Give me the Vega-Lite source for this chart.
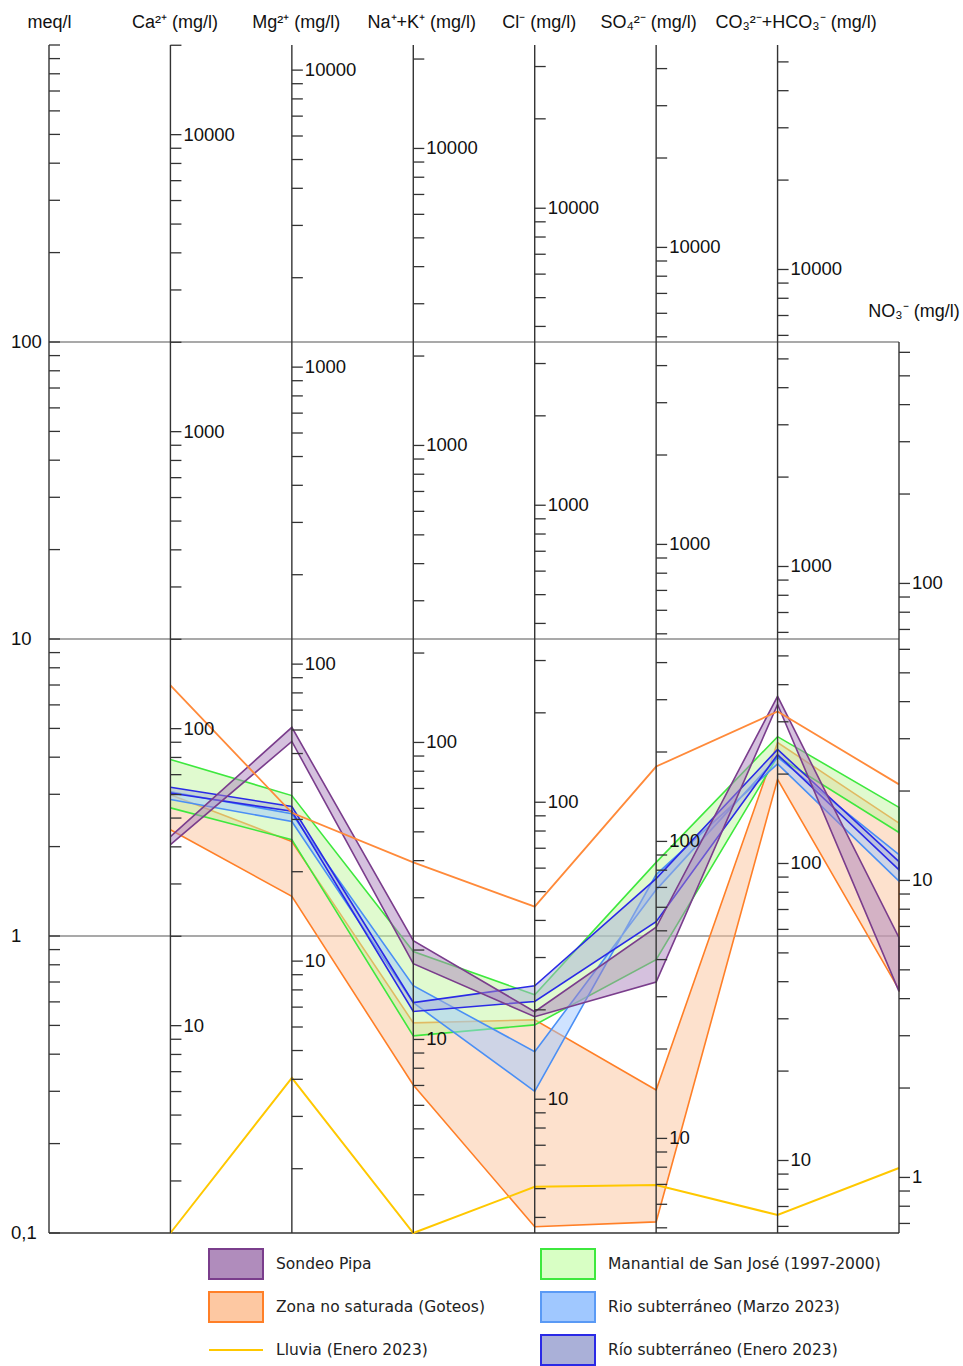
{
  "$schema": "https://vega.github.io/schema/vega-lite/v6.json",
  "width": 850,
  "height": 1188,
  "autosize": {"type": "none"},
  "padding": {"left": 49, "top": 45, "right": 64, "bottom": 133},
  "background": "white",
  "config": {
    "view": {"stroke": null},
    "font": "Liberation Sans",
    "locale": {"number": {"decimal": ",", "thousands": ".", "grouping": [3], "currency": ["", " €"]}},
    "axisX": {
      "domain": false,
      "ticks": false,
      "grid": false,
      "labelAngle": 0,
      "labelPadding": 14,
      "labelFontSize": 18,
      "labelColor": "#111",
      "labelFont": "Liberation Sans",
      "labelOffset": {"condition": [{"test": "datum.value === 'SO4'", "value": -8}, {"test": "datum.value === 'HCO3'", "value": 18}, {"test": "datum.value === 'NaK'", "value": 8}, {"test": "datum.value === 'meq'", "value": 0}], "value": 4},
      "labelExpr": "{'meq': 'meq/l', 'Ca': 'Ca²⁺ (mg/l)', 'Mg': 'Mg²⁺ (mg/l)', 'NaK': 'Na⁺+K⁺ (mg/l)', 'Cl': 'Cl⁻ (mg/l)', 'SO4': 'SO₄²⁻ (mg/l)', 'HCO3': 'CO₃²⁻+HCO₃⁻ (mg/l)', 'NO3': ''}[datum.value]"
    }
  },
  "datasets": {
    "iones": [
      {"ion": "meq", "eqw": 1, "bottom": 0.1, "top": 1000},
      {"ion": "Ca", "eqw": 20.04, "bottom": 0.1, "top": 1000},
      {"ion": "Mg", "eqw": 12.15, "bottom": 0.1, "top": 1000},
      {"ion": "NaK", "eqw": 22.3, "bottom": 0.1, "top": 1000},
      {"ion": "Cl", "eqw": 35.45, "bottom": 0.1, "top": 1000},
      {"ion": "SO4", "eqw": 48.03, "bottom": 0.1, "top": 1000},
      {"ion": "HCO3", "eqw": 57, "bottom": 0.1, "top": 1000},
      {"ion": "NO3", "eqw": 6.5, "bottom": 0.1, "top": 100}
    ],
    "bandas": [
      {"g": "Zona no saturada (Goteos)", "ion": "Ca", "min": 2.28, "max": 2.99},
      {"g": "Zona no saturada (Goteos)", "ion": "Mg", "min": 1.36, "max": 2.08},
      {"g": "Zona no saturada (Goteos)", "ion": "NaK", "min": 0.315, "max": 0.51},
      {"g": "Zona no saturada (Goteos)", "ion": "Cl", "min": 0.105, "max": 0.522},
      {"g": "Zona no saturada (Goteos)", "ion": "SO4", "min": 0.109, "max": 0.303},
      {"g": "Zona no saturada (Goteos)", "ion": "HCO3", "min": 3.37, "max": 4.48},
      {"g": "Zona no saturada (Goteos)", "ion": "NO3", "min": 0.66, "max": 2.4},
      {"g": "Manantial de San José (1997-2000)", "ion": "Ca", "min": 2.7, "max": 3.93},
      {"g": "Manantial de San José (1997-2000)", "ion": "Mg", "min": 2.11, "max": 2.97},
      {"g": "Manantial de San José (1997-2000)", "ion": "NaK", "min": 0.461, "max": 0.887},
      {"g": "Manantial de San José (1997-2000)", "ion": "Cl", "min": 0.502, "max": 0.634},
      {"g": "Manantial de San José (1997-2000)", "ion": "SO4", "min": 0.832, "max": 1.77},
      {"g": "Manantial de San José (1997-2000)", "ion": "HCO3", "min": 4.02, "max": 4.69},
      {"g": "Manantial de San José (1997-2000)", "ion": "NO3", "min": 2.23, "max": 2.71},
      {"g": "Rio subterráneo (Marzo 2023)", "ion": "Ca", "min": 2.88, "max": 3.06},
      {"g": "Rio subterráneo (Marzo 2023)", "ion": "Mg", "min": 2.43, "max": 2.58},
      {"g": "Rio subterráneo (Marzo 2023)", "ion": "NaK", "min": 0.596, "max": 0.68},
      {"g": "Rio subterráneo (Marzo 2023)", "ion": "Cl", "min": 0.3, "max": 0.408},
      {"g": "Rio subterráneo (Marzo 2023)", "ion": "SO4", "min": 1.61, "max": 1.43},
      {"g": "Rio subterráneo (Marzo 2023)", "ion": "HCO3", "min": 3.8, "max": 4.0},
      {"g": "Rio subterráneo (Marzo 2023)", "ion": "NO3", "min": 1.53, "max": 1.88},
      {"g": "Río subterráneo (Enero 2023)", "ion": "Ca", "min": 3.03, "max": 3.17},
      {"g": "Río subterráneo (Enero 2023)", "ion": "Mg", "min": 2.63, "max": 2.73},
      {"g": "Río subterráneo (Enero 2023)", "ion": "NaK", "min": 0.557, "max": 0.597},
      {"g": "Río subterráneo (Enero 2023)", "ion": "Cl", "min": 0.602, "max": 0.68},
      {"g": "Río subterráneo (Enero 2023)", "ion": "SO4", "min": 1.117, "max": 1.56},
      {"g": "Río subterráneo (Enero 2023)", "ion": "HCO3", "min": 4.08, "max": 4.25},
      {"g": "Río subterráneo (Enero 2023)", "ion": "NO3", "min": 1.67, "max": 1.78},
      {"g": "Sondeo Pipa", "ion": "Ca", "min": 2.03, "max": 2.16},
      {"g": "Sondeo Pipa", "ion": "Mg", "min": 4.52, "max": 5.04},
      {"g": "Sondeo Pipa", "ion": "NaK", "min": 0.807, "max": 0.964},
      {"g": "Sondeo Pipa", "ion": "Cl", "min": 0.535, "max": 0.556},
      {"g": "Sondeo Pipa", "ion": "SO4", "min": 0.7, "max": 1.07},
      {"g": "Sondeo Pipa", "ion": "HCO3", "min": 6.02, "max": 6.41},
      {"g": "Sondeo Pipa", "ion": "NO3", "min": 0.651, "max": 0.987}
    ],
    "lineas": [
      {"g": "Zona no saturada (Goteos)", "ion": "Ca", "meq": 6.98},
      {"g": "Zona no saturada (Goteos)", "ion": "Mg", "meq": 2.6},
      {"g": "Zona no saturada (Goteos)", "ion": "NaK", "meq": 1.77},
      {"g": "Zona no saturada (Goteos)", "ion": "Cl", "meq": 1.255},
      {"g": "Zona no saturada (Goteos)", "ion": "SO4", "meq": 3.72},
      {"g": "Zona no saturada (Goteos)", "ion": "HCO3", "meq": 5.7},
      {"g": "Zona no saturada (Goteos)", "ion": "NO3", "meq": 3.24},
      {"g": "Lluvia (Enero 2023)", "ion": "Ca", "meq": 0.1},
      {"g": "Lluvia (Enero 2023)", "ion": "Mg", "meq": 0.333},
      {"g": "Lluvia (Enero 2023)", "ion": "NaK", "meq": 0.1},
      {"g": "Lluvia (Enero 2023)", "ion": "Cl", "meq": 0.143},
      {"g": "Lluvia (Enero 2023)", "ion": "SO4", "meq": 0.145},
      {"g": "Lluvia (Enero 2023)", "ion": "HCO3", "meq": 0.115},
      {"g": "Lluvia (Enero 2023)", "ion": "NO3", "meq": 0.1655}
    ],
    "escala": [
      {
        "ion": ["meq", "Ca", "Mg", "NaK", "Cl", "SO4", "HCO3", "NO3"],
        "mg": [0.1, 0.2, 0.3, 0.4, 0.5, 0.6, 0.7, 0.8, 0.9,
               1, 2, 3, 4, 5, 6, 7, 8, 9,
               10, 20, 30, 40, 50, 60, 70, 80, 90,
               100, 200, 300, 400, 500, 600, 700, 800, 900,
               1000, 2000, 3000, 4000, 5000, 6000, 7000, 8000, 9000,
               10000, 20000, 30000, 40000, 50000, 60000, 70000, 80000, 90000]
      }
    ],
    "grupos": [
      {"g": "Sondeo Pipa"}
    ]
  },
  "layer": [
    {
      "data": {"values": [{"meq": 0.1}, {"meq": 1}, {"meq": 10}, {"meq": 100}]},
      "mark": {"type": "rule", "strokeWidth": 1.5},
      "encoding": {
        "x": {"datum": "meq", "type": "nominal", "title": null, "scale": {"type": "point", "domain": ["meq", "Ca", "Mg", "NaK", "Cl", "SO4", "HCO3", "NO3"], "padding": 0}, "axis": {"orient": "top"}},
        "x2": {"datum": "NO3"},
        "y": {"field": "meq", "type": "quantitative", "scale": {"type": "log", "domain": [0.1, 1000], "nice": false}, "axis": null},
        "color": {"condition": {"test": "datum.meq < 0.5", "value": "#333333"}, "value": "#8c8c8c"}
      }
    },
    {
      "data": {"name": "bandas"},
      "transform": [
        {"filter": "datum.g === 'Zona no saturada (Goteos)'"},
        {"fold": ["max", "min"], "as": ["lado", "meq"]},
        {"calculate": "indexof(['Ca', 'Mg', 'NaK', 'Cl', 'SO4', 'HCO3', 'NO3'], datum.ion)", "as": "i"},
        {"calculate": "datum.lado === 'max' ? datum.i : 13 - datum.i", "as": "k"}
      ],
      "mark": {"type": "line", "strokeWidth": 1.6, "fillOpacity": 0.5},
      "encoding": {
        "x": {"field": "ion", "type": "nominal", "title": null, "axis": {"orient": "top"}},
        "y": {"field": "meq", "type": "quantitative", "axis": null},
        "order": {"field": "k", "type": "quantitative"},
        "stroke": {"value": "#ff7f27"},
        "fill": {"value": "#fbc39b"}
      }
    },
    {
      "data": {"name": "bandas"},
      "transform": [
        {"filter": "datum.g === 'Manantial de San José (1997-2000)'"},
        {"fold": ["max", "min"], "as": ["lado", "meq"]},
        {"calculate": "indexof(['Ca', 'Mg', 'NaK', 'Cl', 'SO4', 'HCO3', 'NO3'], datum.ion)", "as": "i"},
        {"calculate": "datum.lado === 'max' ? datum.i : 13 - datum.i", "as": "k"}
      ],
      "mark": {"type": "line", "strokeWidth": 1.6, "fillOpacity": 0.5},
      "encoding": {
        "x": {"field": "ion", "type": "nominal", "title": null, "axis": {"orient": "top"}},
        "y": {"field": "meq", "type": "quantitative", "axis": null},
        "order": {"field": "k", "type": "quantitative"},
        "stroke": {"value": "#3ee83e"},
        "fill": {"value": "#c2f5a0"}
      }
    },
    {
      "data": {"name": "bandas"},
      "transform": [
        {"filter": "datum.g === 'Rio subterráneo (Marzo 2023)'"},
        {"fold": ["max", "min"], "as": ["lado", "meq"]},
        {"calculate": "indexof(['Ca', 'Mg', 'NaK', 'Cl', 'SO4', 'HCO3', 'NO3'], datum.ion)", "as": "i"},
        {"calculate": "datum.lado === 'max' ? datum.i : 13 - datum.i", "as": "k"}
      ],
      "mark": {"type": "line", "strokeWidth": 1.6, "fillOpacity": 0.5},
      "encoding": {
        "x": {"field": "ion", "type": "nominal", "title": null, "axis": {"orient": "top"}},
        "y": {"field": "meq", "type": "quantitative", "axis": null},
        "order": {"field": "k", "type": "quantitative"},
        "stroke": {"value": "#4a8ff5"},
        "fill": {"value": "#a0c8ff"}
      }
    },
    {
      "data": {"name": "bandas"},
      "transform": [
        {"filter": "datum.g === 'Río subterráneo (Enero 2023)'"},
        {"fold": ["max", "min"], "as": ["lado", "meq"]},
        {"calculate": "indexof(['Ca', 'Mg', 'NaK', 'Cl', 'SO4', 'HCO3', 'NO3'], datum.ion)", "as": "i"},
        {"calculate": "datum.lado === 'max' ? datum.i : 13 - datum.i", "as": "k"}
      ],
      "mark": {"type": "line", "strokeWidth": 1.6, "fillOpacity": 0.5},
      "encoding": {
        "x": {"field": "ion", "type": "nominal", "title": null, "axis": {"orient": "top"}},
        "y": {"field": "meq", "type": "quantitative", "axis": null},
        "order": {"field": "k", "type": "quantitative"},
        "stroke": {"value": "#2a2ae6"},
        "fill": {"value": "#aab0d8"}
      }
    },
    {
      "data": {"name": "bandas"},
      "transform": [
        {"filter": "datum.g === 'Sondeo Pipa'"},
        {"fold": ["max", "min"], "as": ["lado", "meq"]},
        {"calculate": "indexof(['Ca', 'Mg', 'NaK', 'Cl', 'SO4', 'HCO3', 'NO3'], datum.ion)", "as": "i"},
        {"calculate": "datum.lado === 'max' ? datum.i : 13 - datum.i", "as": "k"}
      ],
      "mark": {"type": "line", "strokeWidth": 1.6, "fillOpacity": 0.5},
      "encoding": {
        "x": {"field": "ion", "type": "nominal", "title": null, "axis": {"orient": "top"}},
        "y": {"field": "meq", "type": "quantitative", "axis": null},
        "order": {"field": "k", "type": "quantitative"},
        "stroke": {"value": "#7a3d8c"},
        "fill": {"value": "#ab84be"}
      }
    },
    {
      "data": {"name": "lineas"},
      "transform": [
        {"filter": "datum.g === 'Zona no saturada (Goteos)'"},
        {"calculate": "indexof(['Ca', 'Mg', 'NaK', 'Cl', 'SO4', 'HCO3', 'NO3'], datum.ion)", "as": "i"}
      ],
      "mark": {"type": "line", "strokeWidth": 1.8, "color": "#ff8a3a"},
      "encoding": {
        "x": {"field": "ion", "type": "nominal", "title": null, "axis": {"orient": "top"}},
        "y": {"field": "meq", "type": "quantitative", "axis": null},
        "order": {"field": "i", "type": "quantitative"}
      }
    },
    {
      "data": {"name": "lineas"},
      "transform": [
        {"filter": "datum.g === 'Lluvia (Enero 2023)'"},
        {"calculate": "indexof(['Ca', 'Mg', 'NaK', 'Cl', 'SO4', 'HCO3', 'NO3'], datum.ion)", "as": "i"}
      ],
      "mark": {"type": "line", "strokeWidth": 2, "color": "#ffc800"},
      "encoding": {
        "x": {"field": "ion", "type": "nominal", "title": null, "axis": {"orient": "top"}},
        "y": {"field": "meq", "type": "quantitative", "axis": null},
        "order": {"field": "i", "type": "quantitative"}
      }
    },
    {
      "data": {"name": "iones"},
      "mark": {"type": "rule", "color": "#333333", "strokeWidth": 1.4},
      "encoding": {
        "x": {"field": "ion", "type": "nominal", "title": null, "axis": {"orient": "top"}},
        "y": {"field": "bottom", "type": "quantitative", "axis": null},
        "y2": {"field": "top"}
      }
    },
    {
      "data": {"name": "escala"},
      "transform": [
        {"flatten": ["ion"]},
        {"flatten": ["mg"]},
        {"lookup": "ion", "from": {"data": {"name": "iones"}, "key": "ion", "fields": ["eqw", "top"]}},
        {"calculate": "datum.mg / datum.eqw", "as": "meq"},
        {"filter": "datum.meq >= 0.0999 && datum.meq <= datum.top * 1.0001"}
      ],
      "encoding": {
        "x": {"field": "ion", "type": "nominal", "title": null, "axis": {"orient": "top"}},
        "y": {"field": "meq", "type": "quantitative", "axis": null}
      },
      "layer": [
        {
          "mark": {"type": "tick", "orient": "horizontal", "size": 11, "thickness": 1.3, "xOffset": 5.5, "color": "#333333", "opacity": 1}
        },
        {
          "transform": [
            {"filter": "datum.ion !== 'meq' && abs(log(datum.mg) / LN10 - round(log(datum.mg) / LN10)) < 1e-6"}
          ],
          "mark": {"type": "text", "align": "left", "baseline": "middle", "dx": 13, "fontSize": 18.5, "font": "Liberation Sans", "color": "#111"},
          "encoding": {"text": {"field": "mg", "type": "quantitative", "format": "d"}}
        },
        {
          "transform": [
            {"filter": "datum.ion === 'meq' && datum.meq <= 100.01 && abs(log(datum.mg) / LN10 - round(log(datum.mg) / LN10)) < 1e-6"}
          ],
          "mark": {"type": "text", "align": "left", "baseline": "middle", "dx": -38, "fontSize": 18.5, "font": "Liberation Sans", "color": "#111"},
          "encoding": {"text": {"field": "meq", "type": "quantitative", "format": "~g"}}
        }
      ]
    },
    {
      "data": {"values": [{"ion": "NO3", "meq": 126, "t": "NO₃⁻ (mg/l)"}]},
      "mark": {"type": "text", "align": "center", "baseline": "middle", "dx": 15, "fontSize": 18, "font": "Liberation Sans", "color": "#111"},
      "encoding": {
        "x": {"field": "ion", "type": "nominal", "title": null, "axis": {"orient": "top"}},
        "y": {"field": "meq", "type": "quantitative", "axis": null},
        "text": {"field": "t"}
      }
    },
    {
      "data": {"name": "grupos"},
      "transform": [{"filter": "false"}],
      "mark": {"type": "point", "filled": true, "opacity": 1},
      "encoding": {
        "fill": {
          "field": "g", "type": "nominal",
          "scale": {
            "domain": ["Sondeo Pipa", "Zona no saturada (Goteos)", "Lluvia (Enero 2023)", "Manantial de San José (1997-2000)", "Rio subterráneo (Marzo 2023)", "Río subterráneo (Enero 2023)"],
            "range": ["#b08cbc", "#fdc8a2", "transparent", "#d8ffc4", "#a0c8ff", "#aab0d8"]
          },
          "legend": {"orient": "none", "legendX": 171, "legendY": 1203, "columns": 2, "title": null, "symbolSize": 900, "symbolStrokeWidth": 2, "labelFont": "DejaVu Sans", "labelFontSize": 15.5, "labelColor": "#222", "labelOffset": 24, "columnPadding": 52, "rowPadding": 5, "labelLimit": 400}
        },
        "stroke": {
          "field": "g", "type": "nominal",
          "scale": {
            "domain": ["Sondeo Pipa", "Zona no saturada (Goteos)", "Lluvia (Enero 2023)", "Manantial de San José (1997-2000)", "Rio subterráneo (Marzo 2023)", "Río subterráneo (Enero 2023)"],
            "range": ["#7a3d8c", "#ff7f27", "#ffc800", "#3ee83e", "#5a9af5", "#2a2ae6"]
          },
          "legend": {"orient": "none", "legendX": 171, "legendY": 1203, "columns": 2, "title": null, "symbolSize": 900, "symbolStrokeWidth": 2, "labelFont": "DejaVu Sans", "labelFontSize": 15.5, "labelColor": "#222", "labelOffset": 24, "columnPadding": 52, "rowPadding": 5, "labelLimit": 400}
        },
        "shape": {
          "field": "g", "type": "nominal",
          "scale": {
            "domain": ["Sondeo Pipa", "Zona no saturada (Goteos)", "Lluvia (Enero 2023)", "Manantial de San José (1997-2000)", "Rio subterráneo (Marzo 2023)", "Río subterráneo (Enero 2023)"],
            "range": ["M-1.8,-1H1.8V1H-1.8Z", "M-1.8,-1H1.8V1H-1.8Z", "M-1.8,0H1.8", "M-1.8,-1H1.8V1H-1.8Z", "M-1.8,-1H1.8V1H-1.8Z", "M-1.8,-1H1.8V1H-1.8Z"]
          },
          "legend": {"orient": "none", "legendX": 171, "legendY": 1203, "columns": 2, "title": null, "symbolSize": 900, "symbolStrokeWidth": 2, "labelFont": "DejaVu Sans", "labelFontSize": 15.5, "labelColor": "#222", "labelOffset": 24, "columnPadding": 52, "rowPadding": 5, "labelLimit": 400}
        }
      }
    }
  ]
}
